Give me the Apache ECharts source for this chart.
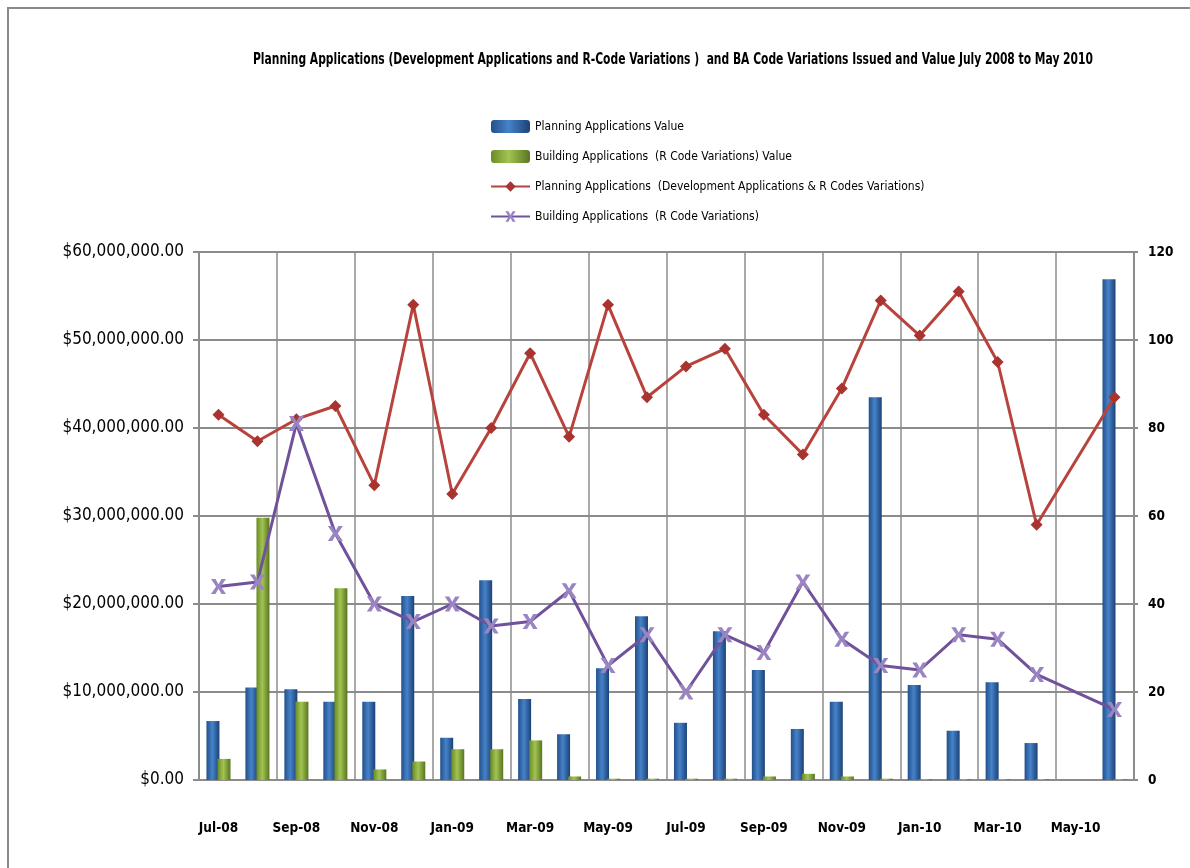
<!DOCTYPE html>
<html>
<head>
<meta charset="utf-8">
<script src="https://cdn.jsdelivr.net/npm/echarts@6/dist/echarts.min.js"></script>
<style>
  html, body { margin: 0; padding: 0; background: #fff; }
  .frame {
    position: absolute; left: 7px; top: 7px; width: 1200px; height: 900px;
    border-top: 2px solid #8a8a8a; border-left: 2px solid #8a8a8a;
  }
  .myChart { position: absolute; left: 0; top: 0; width: 1190px; height: 868px; }
</style>
</head>
<body>
<div class="frame"></div>
<div class="myChart"></div>
<script>
  var months = ['Jul-08', 'Aug-08', 'Sep-08', 'Oct-08', 'Nov-08', 'Dec-08', 'Jan-09', 'Feb-09', 'Mar-09', 'Apr-09', 'May-09', 'Jun-09',
    'Jul-09', 'Aug-09', 'Sep-09', 'Oct-09', 'Nov-09', 'Dec-09', 'Jan-10', 'Feb-10', 'Mar-10', 'Apr-10', 'May-10', 'Jun-10']
  var planningValue = [6700000, 10500000, 10300000, 8900000, 8900000, 20900000, 4800000, 22700000, 9200000, 5200000, 12700000, 18600000,
    6500000, 16900000, 12500000, 5800000, 8900000, 43500000, 10800000, 5600000, 11100000, 4200000, null, 56900000]
  var buildingValue = [2400000, 29800000, 8900000, 21800000, 1200000, 2100000, 3500000, 3500000, 4500000, 400000, 150000, 150000,
    150000, 150000, 400000, 700000, 400000, 150000, 100000, 100000, 100000, 100000, null, 100000]
  var planningCount = [83, 77, 82, 85, 67, 108, 65, 80, 97, 78, 108, 87, 94, 98, 83, 74, 89, 109, 101, 111, 95, 58, null, 87]
  var buildingCount = [44, 45, 81, 56, 40, 36, 40, 35, 36, 43, 26, 33, 20, 33, 29, 45, 32, 26, 25, 33, 32, 24, null, 16]
  var leftTicks = [0, 10000000, 20000000, 30000000, 40000000, 50000000, 60000000]

  var font = '"DejaVu Sans Condensed", "Liberation Sans", sans-serif'
  var gridColor = '#8c8c8c'
  var titleText = 'Planning Applications (Development Applications and R-Code Variations )  and BA Code Variations Issued and Value July 2008 to May 2010'

  function money (v) {
    var s = String(Math.round(v))
    s = s.replace(/\B(?=(\d{3})+(?!\d))/g, ',')
    return '$' + s + '.00'
  }

  var blueFill = new echarts.graphic.LinearGradient(0, 0, 1, 0, [
    {offset: 0, color: '#22508c'},
    {offset: 0.45, color: '#4682c8'},
    {offset: 1, color: '#1b4276'}
  ])
  var greenFill = new echarts.graphic.LinearGradient(0, 0, 1, 0, [
    {offset: 0, color: '#6a8a25'},
    {offset: 0.45, color: '#a2c453'},
    {offset: 1, color: '#587520'}
  ])
  var xMark = 'path://M0,0 L3,0 L5,3.5 L7,0 L10,0 L6.6,5 L10,10 L7,10 L5,6.5 L3,10 L0,10 L3.4,5 Z'

  var myChart = echarts.init(document.querySelector('.myChart'))

  // title squeezed horizontally to get the narrow look of the original
  var probe = new echarts.graphic.Text({style: {text: titleText, font: 'bold 16px ' + font}})
  var titleW = probe.getBoundingRect().width
  var titleScale = 840 / titleW

  myChart.setOption({
    animation: false,
    graphic: [{
      type: 'text',
      x: 253,
      y: 60,
      scaleX: titleScale,
      style: {
        text: titleText,
        font: 'bold 16px ' + font,
        fill: '#000',
        verticalAlign: 'middle'
      }
    }],
    legend: {
      orient: 'vertical',
      left: 490,
      top: 120,
      padding: 0,
      itemWidth: 39,
      itemHeight: 13,
      itemGap: 17,
      textStyle: {fontFamily: font, fontSize: 12, color: '#000', lineHeight: 13},
      data: [
        'Planning Applications Value',
        'Building Applications  (R Code Variations) Value',
        'Planning Applications  (Development Applications & R Codes Variations)',
        'Building Applications  (R Code Variations)'
      ]
    },
    grid: {left: 199, right: 56, top: 252, bottom: 88},
    xAxis: {
      type: 'category',
      data: months,
      boundaryGap: true,
      axisLine: {lineStyle: {color: gridColor, width: 2}},
      axisTick: {interval: 1, length: 8, lineStyle: {color: gridColor, width: 1.5}},
      axisLabel: {
        interval: 1,
        margin: 41,
        fontFamily: font,
        fontSize: 13.5,
        fontWeight: 'bold',
        color: '#000'
      },
      splitLine: {show: true, interval: 1, lineStyle: {color: gridColor, width: 1.5}}
    },
    yAxis: [
      {
        type: 'value',
        min: leftTicks[0],
        max: leftTicks[leftTicks.length - 1],
        interval: 10000000,
        position: 'left',
        axisLine: {show: true, lineStyle: {color: gridColor, width: 2}},
        axisTick: {show: true, length: 6, lineStyle: {color: gridColor, width: 2}},
        axisLabel: {
          margin: 15,
          fontFamily: font,
          fontSize: 17,
          color: '#000',
          formatter: money
        },
        splitLine: {lineStyle: {color: gridColor, width: 2}}
      },
      {
        type: 'value',
        min: 0,
        max: 120,
        interval: 20,
        position: 'right',
        axisLine: {show: true, lineStyle: {color: gridColor, width: 2}},
        axisTick: {show: true, length: 4, lineStyle: {color: gridColor, width: 2}},
        axisLabel: {
          margin: 14,
          fontFamily: font,
          fontSize: 13.5,
          fontWeight: 'bold',
          color: '#000'
        },
        splitLine: {show: false}
      }
    ],
    series: [
      {
        name: 'Planning Applications Value',
        type: 'bar',
        yAxisIndex: 0,
        barWidth: 13,
        barGap: '-15%',
        itemStyle: {color: blueFill},
        data: planningValue
      },
      {
        name: 'Building Applications  (R Code Variations) Value',
        type: 'bar',
        yAxisIndex: 0,
        barWidth: 13,
        barGap: '-15%',
        itemStyle: {color: greenFill},
        data: buildingValue
      },
      {
        name: 'Planning Applications  (Development Applications & R Codes Variations)',
        type: 'line',
        yAxisIndex: 1,
        connectNulls: true,
        symbol: 'diamond',
        symbolSize: 12,
        lineStyle: {color: '#b8433c', width: 3},
        itemStyle: {color: '#a8332f'},
        data: planningCount
      },
      {
        name: 'Building Applications  (R Code Variations)',
        type: 'line',
        yAxisIndex: 1,
        connectNulls: true,
        symbol: xMark,
        symbolSize: 15,
        lineStyle: {color: '#70529a', width: 3},
        itemStyle: {color: '#9a84c2'},
        data: buildingCount
      }
    ]
  })
</script>
</body>
</html>
